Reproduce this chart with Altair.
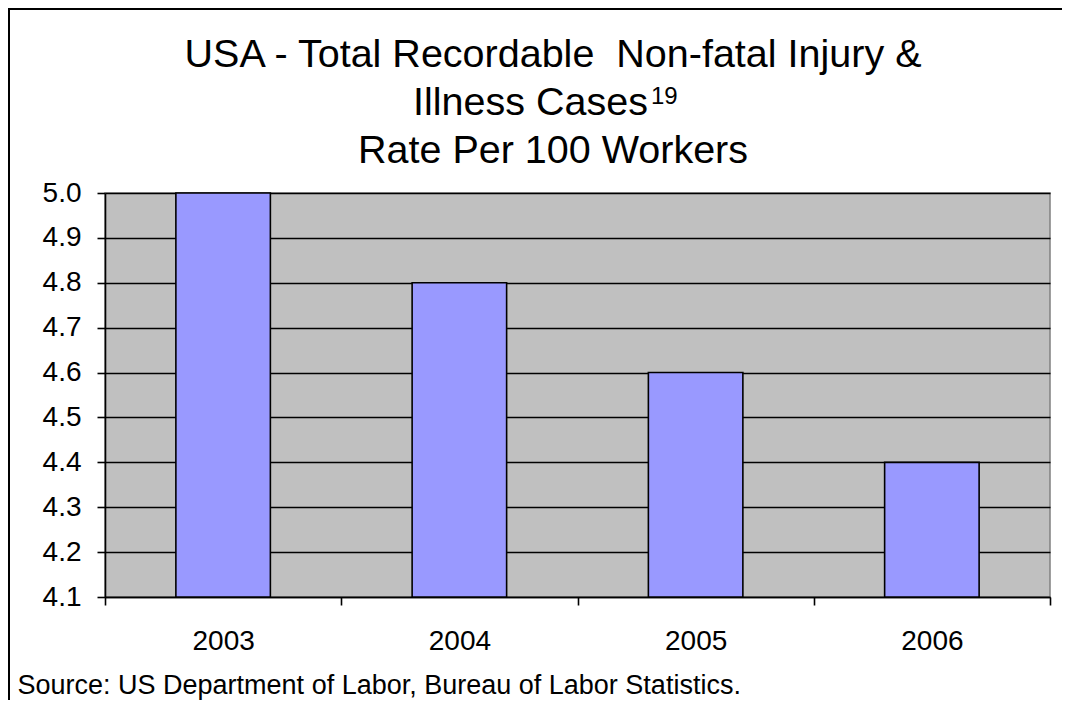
import altair as alt
import pandas as pd

years = ["2003", "2004", "2005", "2006"]
rates = [5.0, 4.8, 4.6, 4.4]
y_ticks = [4.1, 4.2, 4.3, 4.4, 4.5, 4.6, 4.7, 4.8, 4.9, 5.0]
title_line1 = "USA - Total Recordable\u00a0 Non-fatal Injury &"
title_line2 = "Illness Cases"
title_sup = "19"
title_line3 = "Rate Per 100 Workers"
source_text = "Source: US Department of Labor, Bureau of Labor Statistics."

FONT = "Liberation Sans"

df = pd.DataFrame({"year": years, "rate": rates})

bars = alt.Chart(df).mark_bar(
    color="#9999FF", stroke="black", strokeWidth=1.6,
    width=alt.RelativeBandSize(0.4),
).encode(
    x=alt.X("year:N", sort=years,
            scale=alt.Scale(paddingInner=0, paddingOuter=0),
            axis=alt.Axis(title=source_text, labelAngle=0, tickBand="extent",
                          labelFontSize=28, labelPadding=22,
                          titleFontSize=27, titleFontWeight="normal",
                          titleAnchor="start", titleAlign="left",
                          titleX=-88, titleY=96, titleBaseline="alphabetic",
                          grid=False)),
    y=alt.Y("rate:Q", scale=alt.Scale(domain=[4.1, 5.0], nice=False, zero=False),
            axis=alt.Axis(title=None, values=y_ticks, format=".1f",
                          labelFontSize=28, labelPadding=16, grid=True,
                          gridColor="black", gridWidth=1.6)),
    y2=alt.datum(4.1),
)

one = pd.DataFrame({"f": [0]})

frame = alt.Chart(one).mark_rule(
    stroke="black", strokeWidth=2, clip=False
).encode(
    x=alt.value(-96), x2=alt.value(2000),
    y=alt.value(-184),
)
frame_left = alt.Chart(one).mark_rule(
    stroke="black", strokeWidth=2, clip=False
).encode(
    x=alt.value(-96),
    y=alt.value(-185), y2=alt.value(2000),
)

def title_text(txt, x, y, size, align="center"):
    return alt.Chart(one).mark_text(
        text=txt, fontSize=size, font=FONT, color="black",
        align=align, baseline="alphabetic", clip=False,
    ).encode(x=alt.value(x), y=alt.value(y))

t1 = title_text(title_line1, 448, -126, 39.5)
t2 = title_text(title_line2, 543, -78, 39.5, align="right")
t2s = title_text(title_sup, 546, -89, 24, align="left")
t3 = title_text(title_line3, 448, -30, 39.5)

chart = alt.layer(bars, frame, frame_left, t1, t2, t2s, t3).properties(
    width=945, height=404,
    autosize=alt.AutoSizeParams(type="none"),
    padding={"left": 97, "top": 185, "right": 12, "bottom": 103},
).configure(
    font=FONT,
    background="white",
).configure_view(
    fill="#C0C0C0", stroke="#808080", strokeWidth=1.5,
).configure_axis(
    labelFont=FONT, titleFont=FONT, labelColor="black", titleColor="black",
    domainColor="black", domainWidth=1.6, tickColor="black", tickWidth=1.6,
    tickSize=8,
)

chart.save("out.html", embed_options={"renderer": "svg", "actions": False})
